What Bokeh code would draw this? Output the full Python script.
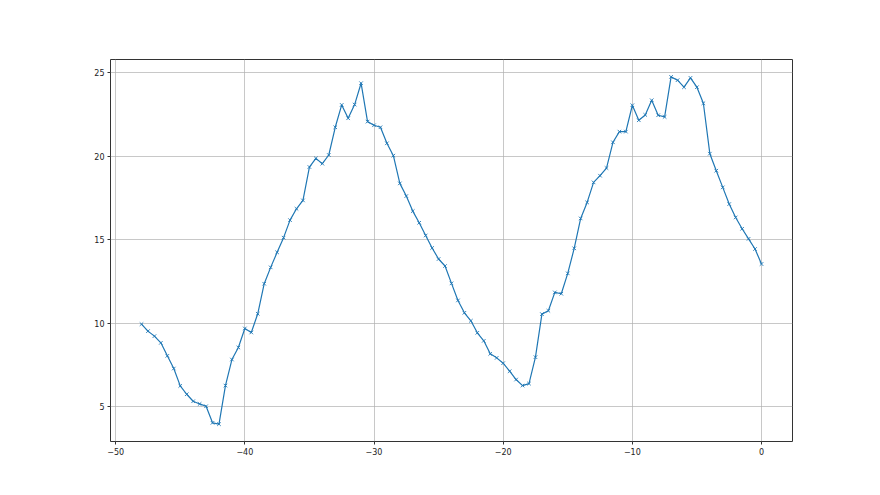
from bokeh.plotting import figure
from bokeh.models import FixedTicker, Range1d
from bokeh.embed import file_html
from bokeh.resources import INLINE

x_vals = [-48 + 0.5 * i for i in range(97)]
y_vals = [
    9.94, 9.52, 9.22, 8.82, 8.04, 7.28, 6.24, 5.74, 5.32, 5.16,
    5.02, 4.03, 3.95, 6.26, 7.82, 8.54, 9.68, 9.44, 10.56, 12.36,
    13.34, 14.24, 15.12, 16.17, 16.85, 17.35, 19.35, 19.87, 19.55, 20.07,
    21.73, 23.07, 22.27, 23.09, 24.37, 22.07, 21.85, 21.73, 20.77, 20.03,
    18.37, 17.61, 16.71, 16.01, 15.25, 14.50, 13.84, 13.42, 12.38, 11.36,
    10.62, 10.14, 9.42, 8.94, 8.16, 7.92, 7.60, 7.12, 6.62, 6.26,
    6.38, 7.96, 10.54, 10.74, 11.84, 11.76, 12.98, 14.48, 16.27, 17.23,
    18.43, 18.83, 19.29, 20.83, 21.47, 21.47, 23.05, 22.15, 22.47, 23.35,
    22.45, 22.35, 24.75, 24.55, 24.13, 24.69, 24.13, 23.17, 20.15, 19.13,
    18.13, 17.13, 16.33, 15.65, 15.05, 14.44, 13.54,
]
x_ticks = [-50, -40, -30, -20, -10, 0]
y_ticks = [5, 10, 15, 20, 25]

xmin, xmax = min(x_vals), max(x_vals)
ymin, ymax = min(y_vals), max(y_vals)
xm = (xmax - xmin) * 0.05
ym = (ymax - ymin) * 0.05

p = figure(width=872, height=487, output_backend="svg", toolbar_location=None,
           x_range=Range1d(xmin - xm, xmax + xm), y_range=Range1d(ymin - ym, ymax + ym),
           min_border_left=110, min_border_right=80, min_border_top=59, min_border_bottom=46)

p.line(x_vals, y_vals, line_color="#1f77b4", line_width=1.2)
p.scatter(x_vals, y_vals, marker="x", size=5, line_color="#1f77b4", line_width=0.9)

p.outline_line_color = "#333333"
p.outline_line_width = 1
p.background_fill_color = "white"
p.border_fill_color = "white"

for ax, ticks in ((p.xaxis[0], x_ticks), (p.yaxis[0], y_ticks)):
    ax.ticker = FixedTicker(ticks=ticks)
    ax.minor_tick_line_color = None
    ax.major_tick_out = 3
    ax.major_tick_in = 0
    ax.major_tick_line_color = "#333333"
    ax.axis_line_color = None
    ax.major_label_text_font = "DejaVu Sans"
    ax.major_label_text_font_size = "8px"
    ax.major_label_text_color = "#222222"
    ax.major_label_standoff = 3
    ax.major_label_overrides = {t: (str(t).replace("-", "\u2212")) for t in ticks}

p.xgrid.ticker = FixedTicker(ticks=x_ticks)
p.ygrid.ticker = FixedTicker(ticks=y_ticks)
for g in (p.xgrid[0], p.ygrid[0]):
    g.grid_line_color = "#b0b0b0"
    g.grid_line_width = 0.7

open("out.html", "w").write(file_html(p, INLINE))
